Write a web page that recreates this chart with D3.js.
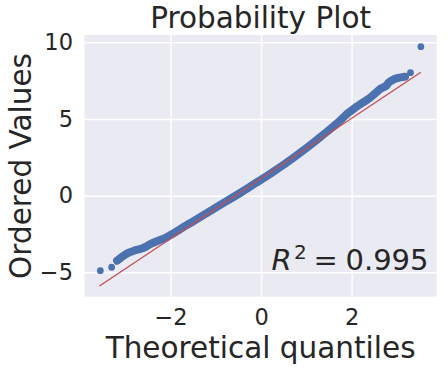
<!DOCTYPE html>
<html>
<head>
<meta charset="utf-8">
<script src="https://cdn.jsdelivr.net/npm/d3@7"></script>
<style>
  body { margin: 0; background: #fff; }
  text { font-family: 'DejaVu Sans', sans-serif; fill: #262626; }
</style>
</head>
<body>
<div id="plot"></div>
<script>
// theoretical quantiles and ordered values
let quantiles = [-3.55, -3.30, -3.18, -3.10, -3.02, -2.94, -2.86, -2.78, -2.70, -2.62,
    -2.54, -2.46, -2.38, -2.30, -2.22, -2.14, -2.06, -1.98, -1.90, -1.80,
    -1.70, -1.60, -1.50, -1.40, -1.30, -1.20, -1.10, -1.00, -0.90, -0.80,
    -0.70, -0.60, -0.50, -0.40, -0.30, -0.20, -0.10, 0.00, 0.10, 0.20,
    0.30, 0.40, 0.50, 0.60, 0.70, 0.80, 0.90, 1.00, 1.10, 1.20,
    1.30, 1.40, 1.50, 1.60, 1.70, 1.80, 1.90, 2.00, 2.10, 2.20,
    2.30, 2.40, 2.48, 2.56, 2.63, 2.70, 2.76, 2.82, 2.88, 2.94,
    3.00, 3.06, 3.12, 3.18, 3.30, 3.53];
let ordered = [-4.89, -4.67, -4.24, -4.05, -3.88, -3.74, -3.65, -3.56, -3.50, -3.43,
    -3.33, -3.18, -3.07, -2.97, -2.88, -2.79, -2.67, -2.53, -2.40, -2.21,
    -2.02, -1.85, -1.68, -1.50, -1.32, -1.14, -0.96, -0.78, -0.60, -0.42,
    -0.25, -0.07, 0.11, 0.29, 0.48, 0.67, 0.86, 1.04, 1.23, 1.42,
    1.62, 1.82, 2.02, 2.23, 2.44, 2.66, 2.88, 3.10, 3.33, 3.56,
    3.80, 4.04, 4.28, 4.52, 4.78, 5.05, 5.34, 5.56, 5.78, 5.98,
    6.17, 6.37, 6.57, 6.78, 6.96, 7.06, 7.15, 7.38, 7.50, 7.60,
    7.66, 7.70, 7.73, 7.76, 8.02, 9.72];

// least squares line, its two ends
let fitQ = [-3.57, 3.53];
let fitV = [-5.89, 8.05];

let xTicks = [-2, 0, 2];
let yTicks = [-5, 0, 5, 10];
let r2Text = '0.995';

let margin = { top: 35, right: 11.3, bottom: 73.3, left: 84.5 },
    width = 448 - margin.left - margin.right,
    height = 370 - margin.top - margin.bottom;

let svg = d3.select('#plot')
    .append('svg')
        .attr('width', 448)
        .attr('height', 370)
    .append('g')
        .attr('transform', 'translate(' + margin.left + ',' + margin.top + ')');

let x = d3.scaleLinear()
    .domain([-3.90, 3.88])
    .range([0, width]);

let y = d3.scaleLinear()
    .domain([-6.59, 10.48])
    .range([height, 0]);

svg.append('rect')
    .attr('width', width)
    .attr('height', height)
    .attr('fill', '#EAEAF2');

// grid
svg.append('g')
    .attr('transform', 'translate(0,' + height + ')')
    .call(d3.axisBottom(x).tickValues(xTicks).tickSize(-height).tickFormat(''))
    .call(g => g.select('.domain').remove())
    .selectAll('line').attr('stroke', '#fff').attr('stroke-width', 1.5);

svg.append('g')
    .call(d3.axisLeft(y).tickValues(yTicks).tickSize(-width).tickFormat(''))
    .call(g => g.select('.domain').remove())
    .selectAll('line').attr('stroke', '#fff').attr('stroke-width', 1.5);

// tick labels
svg.append('g')
    .attr('transform', 'translate(0,' + height + ')')
    .call(d3.axisBottom(x).tickValues(xTicks).tickSize(0).tickPadding(12.5))
    .call(g => g.select('.domain').remove())
    .selectAll('text')
        .style('font-size', '22.5px')
        .style('font-family', "'DejaVu Sans', sans-serif")
        .attr('fill', '#262626');

svg.append('g')
    .call(d3.axisLeft(y).tickValues(yTicks).tickSize(0).tickPadding(11.5))
    .call(g => g.select('.domain').remove())
    .selectAll('text')
        .style('font-size', '22.5px')
        .style('font-family', "'DejaVu Sans', sans-serif")
        .attr('fill', '#262626');

let points = quantiles.map(function(q, i) { return { q: q, v: ordered[i] }; });

// dense part of the cloud
let line = d3.line()
    .x(function(d) { return x(d.q) })
    .y(function(d) { return y(d.v) });

svg.append('path')
    .datum(points.filter(function(d) { return d.q >= -3.18 && d.q <= 3.18; }))
    .attr('d', line)
    .attr('stroke', '#4C72B0')
    .attr('stroke-width', 8)
    .attr('stroke-linecap', 'round')
    .attr('stroke-linejoin', 'round')
    .attr('fill', 'none');

svg.selectAll('.pt')
    .data(points)
    .enter()
    .append('circle')
        .attr('class', 'pt')
        .attr('cx', function(d) { return x(d.q) })
        .attr('cy', function(d) { return y(d.v) })
        .attr('r', 3.4)
        .attr('fill', '#4C72B0');

svg.append('line')
    .attr('x1', x(fitQ[0]))
    .attr('y1', y(fitV[0]))
    .attr('x2', x(fitQ[1]))
    .attr('y2', y(fitV[1]))
    .attr('stroke', '#C44E52')
    .attr('stroke-width', 1.3);

// R^2 annotation
let r2 = svg.append('text')
    .attr('y', 270 - margin.top)
    .style('font-size', '29px');
r2.append('tspan')
    .attr('x', 271.5 - margin.left)
    .style('font-style', 'italic')
    .text('R');
r2.append('tspan')
    .attr('x', 294 - margin.left)
    .attr('dy', -11)
    .style('font-size', '20px')
    .text('2');
r2.append('tspan')
    .attr('x', 313.5 - margin.left)
    .attr('dy', 11)
    .text('=');
svg.append('text')
    .attr('x', 428.5 - margin.left)
    .attr('y', 270 - margin.top)
    .attr('text-anchor', 'end')
    .style('font-size', '29px')
    .text(r2Text);

// titles
svg.append('text')
    .attr('x', width / 2)
    .attr('y', -6.7)
    .attr('text-anchor', 'middle')
    .style('font-size', '29.5px')
    .text('Probability Plot');

svg.append('text')
    .attr('x', width / 2)
    .attr('y', 358 - margin.top)
    .attr('text-anchor', 'middle')
    .style('font-size', '29.5px')
    .text('Theoretical quantiles');

svg.append('text')
    .attr('transform', 'rotate(-90)')
    .attr('x', -(166 - margin.top))
    .attr('y', 31 - margin.left)
    .attr('text-anchor', 'middle')
    .style('font-size', '29.5px')
    .text('Ordered Values');
</script>
</body>
</html>
